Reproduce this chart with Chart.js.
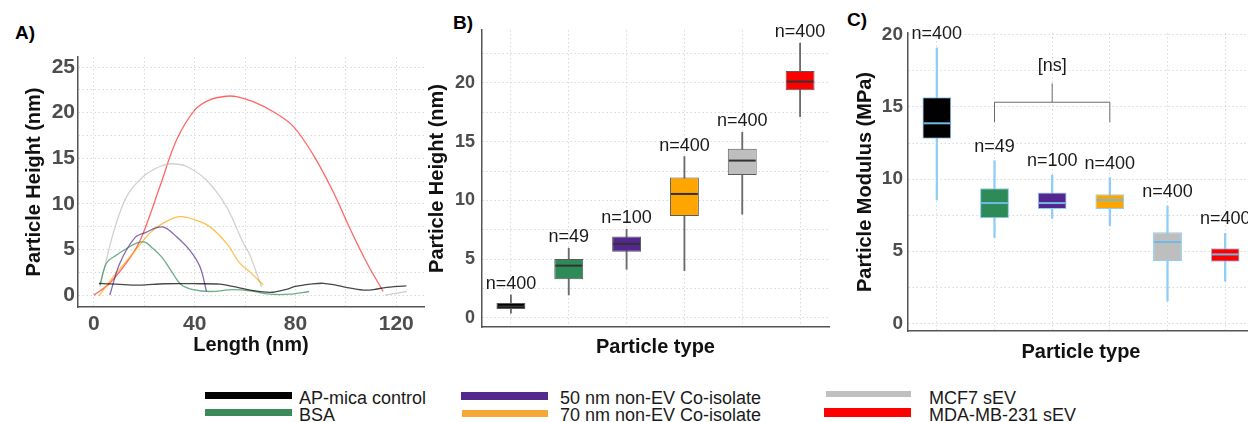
<!DOCTYPE html>
<html>
<head>
<meta charset="utf-8">
<script src="https://cdn.jsdelivr.net/npm/chart.js@4.4.0/dist/chart.umd.min.js"></script>
<style>
  html, body { margin: 0; padding: 0; background: #fff; }
  body { width: 1248px; height: 422px; overflow: hidden; position: relative; font-family: "Liberation Sans", Arial, sans-serif; }
  canvas { position: absolute; top: 0; }
  .tag { position: absolute; font-weight: bold; font-size: 19px; line-height: 19px; color: #000; }
  .sw { position: absolute; }
  .lab { position: absolute; font-size: 18px; line-height: 18px; color: #1a1a1a; white-space: nowrap; }
</style>
</head>
<body>
<div class="tag" style="left:15px;top:23px">A)</div>
<div class="tag" style="left:453px;top:13px">B)</div>
<div class="tag" style="left:847px;top:10px">C)</div>

<canvas id="chartA" width="430" height="370" style="left:0"></canvas>
<canvas id="chartB" width="420" height="370" style="left:420px"></canvas>
<canvas id="chartC" width="420" height="370" style="left:840px"></canvas>

<div id="legend"></div>

<script>
// particle types, same order in every panel
const particleTypes = ['AP-mica control', 'BSA', '50 nm non-EV Co-isolate', '70 nm non-EV Co-isolate', 'MCF7 sEV', 'MDA-MB-231 sEV'];
const typeColors = ['#000000', '#2e8b57', '#54278f', '#ffa500', '#bebebe', '#ff0000'];
const legendColors = ['#000000', '#3a8a5a', '#54298c', '#f6a735', '#c0c0c0', '#ff0000'];
const lineColors = ['rgba(0,0,0,0.72)', 'rgba(46,139,87,0.7)', 'rgba(84,39,143,0.7)', 'rgba(255,165,0,0.7)', 'rgba(190,190,190,0.7)', 'rgba(255,0,0,0.6)'];

// A) height profiles (length nm, height nm)
const apLength   = [2, 9, 18, 28, 42, 50, 55, 62, 70, 76, 80, 86, 91, 96, 100, 107, 111, 115, 124];
const apHeight   = [1.28, 1.2, 1.1, 1.25, 1.25, 1.2, 0.95, 0.55, 0.3, 0.6, 0.95, 1.2, 1.3, 1.1, 0.85, 0.55, 0.6, 0.8, 1.02];
const bsaLength  = [2.4, 5, 9, 13, 16.9, 20.2, 23.5, 26.9, 30.8, 34.8, 39.4, 46, 55.3, 61.9, 69.8, 77.8, 85.4];
const bsaHeight  = [1.1, 3.5, 4.4, 5.1, 5.7, 5.8, 5.1, 4.2, 2.6, 1.1, 0.6, 0.4, 0.6, 0.47, 0.1, 0.1, 0.4];
const co50Length = [6.3, 10.3, 16.3, 20.9, 24.9, 28.2, 32.8, 38.1, 42.1, 44.7];
const co50Height = [0, 3.5, 6.3, 6.9, 7.4, 7.4, 6.4, 4.9, 3.1, 0.4];
const co70Length = [2, 7.7, 15.6, 22.2, 27.5, 34.1, 40.7, 46, 52.6, 57.9, 61.9, 67.2];
const co70Height = [-0.1, 2, 4.6, 6.8, 7.9, 8.6, 8.2, 7.5, 5.7, 3.5, 2.55, 1.1];
const mcf7Length = [2.4, 7.7, 13, 19.6, 26.2, 30.8, 36.8, 44.7, 52.6, 59.3, 61.9, 66.5, 90, 115.5, 124.1];
const mcf7Height = [0.9, 6.8, 10.8, 13, 14.1, 14.4, 14.1, 12.6, 9.7, 5.7, 4.4, 0.9, null, 0, 0.4];
const mdaLength  = [0, 6.3, 15.6, 19.6, 26.2, 32.8, 40.1, 46, 52.6, 56.6, 63.2, 71.2, 79.1, 87, 95, 101.6, 108.2, 114.8];
const mdaHeight  = [0, 1.3, 4.6, 6.8, 11.9, 17, 20.3, 21.4, 21.8, 21.75, 21.2, 20.1, 18.5, 15.4, 11.3, 7.3, 3.6, 0.4];

// B) particle height box plots (nm)
const heightLow  = [0.4, 1.96, 4.14, 4.03, 8.83, 17.13];
const heightQ1   = [0.77, 3.3, 5.64, 8.68, 12.17, 19.38];
const heightMed  = [0.97, 4.45, 6.3, 10.55, 13.39, 20.11];
const heightQ3   = [1.28, 5.02, 6.92, 11.94, 14.4, 21.02];
const heightHigh = [1.96, 5.93, 7.55, 13.73, 15.8, 23.38];
const heightN    = [400, 49, 100, 400, 400, 400];

// C) particle modulus box plots (MPa)
const modulusLow  = [8.55, 5.96, 7.28, 6.77, 1.55, 2.93];
const modulusQ1   = [12.8, 7.28, 7.93, 7.93, 4.32, 4.27];
const modulusMed  = [13.87, 8.34, 8.34, 8.55, 5.64, 4.78];
const modulusQ3   = [15.67, 9.36, 9.08, 8.95, 6.31, 5.2];
const modulusHigh = [19.1, 11.28, 10.28, 10.1, 8.13, 6.24];
const modulusN    = [400, 49, 100, 400, 400, 400];
const nsBracket   = { from: 1, to: 3, level: 15.33, drop: 13.94, top: 16.64, labelAt: 17.86, text: '[ns]' };

Chart.defaults.font.family = '"Liberation Sans", Arial, sans-serif';

const gridStyle = { color: '#d9d9d9', lineWidth: 1, drawTicks: false };
const borderStyle = { color: '#555555', width: 1.5, dash: [1.5, 2.5] };
const titleFont = { size: 20, weight: 'bold' };
const tickColor = '#4d4d4d';

function fiveOnly(v) {
  return v % 5 === 0 ? v : '';
}

function pairs(xs, ys) {
  return xs.map((x, i) => ({ x: x, y: ys[i] }));
}

// ---------- A) line profiles ----------
const profiles = [
  [apLength, apHeight], [bsaLength, bsaHeight], [co50Length, co50Height],
  [co70Length, co70Height], [mcf7Length, mcf7Height], [mdaLength, mdaHeight]
];

new Chart(document.getElementById('chartA'), {
  type: 'line',
  data: {
    datasets: profiles.map((p, i) => ({
      label: particleTypes[i],
      data: pairs(p[0], p[1]),
      borderColor: lineColors[i],
      borderWidth: 1.3,
      pointRadius: 0,
      tension: 0.35,
      spanGaps: false
    }))
  },
  options: {
    responsive: false,
    animation: false,
    layout: { padding: { top: 57, right: 6, left: 0, bottom: 0 } },
    plugins: { legend: { display: false }, tooltip: { enabled: false } },
    scales: {
      x: {
        type: 'linear', min: -6.3, max: 131,
        ticks: { stepSize: 20, includeBounds: false, callback: v => (v % 40 === 0 ? v : ''),
                 font: { size: 21, weight: 'bold' }, color: tickColor, padding: 5, maxRotation: 0, autoSkip: false },
        grid: gridStyle, border: borderStyle,
        title: { display: true, text: 'Length (nm)', font: titleFont, color: '#111', padding: { top: 0, bottom: 13 } },
        afterFit: s => { s.height = 63; }
      },
      y: {
        min: -1.3, max: 26.1,
        ticks: { stepSize: 2.5, includeBounds: false, callback: fiveOnly,
                 font: { size: 21, weight: 'bold' }, color: tickColor, padding: 3, autoSkip: false },
        grid: gridStyle, border: borderStyle,
        title: { display: true, text: 'Particle Height (nm)', font: titleFont, color: '#111', padding: { top: 22, bottom: 0 } },
        afterFit: s => { s.width = 78; }
      }
    }
  }
});

// ---------- box plot helper (floating bars + medians/labels) ----------
const boxExtras = {
  id: 'boxExtras',
  afterDatasetsDraw(chart, args, opts) {
    const { ctx, scales: { x, y } } = chart;
    const meta = chart.getDatasetMeta(1);
    ctx.save();
    opts.med.forEach((m, i) => {
      const bar = meta.data[i];
      const half = bar.width / 2;
      const py = y.getPixelForValue(m);
      ctx.strokeStyle = opts.medColor;
      ctx.lineWidth = opts.medWidth;
      ctx.beginPath();
      ctx.moveTo(bar.x - half + 1, py);
      ctx.lineTo(bar.x + half - 1, py);
      ctx.stroke();
      ctx.fillStyle = '#1a1a1a';
      ctx.font = '18px "Liberation Sans", Arial, sans-serif';
      ctx.textAlign = 'center';
      ctx.textBaseline = 'alphabetic';
      ctx.fillText('n=' + opts.n[i], bar.x, y.getPixelForValue(opts.high[i]) - opts.gap);
    });
    if (opts.bracket) {
      const b = opts.bracket;
      const x1 = x.getPixelForValue(b.from), x2 = x.getPixelForValue(b.to);
      const xm = (x1 + x2) / 2;
      const yl = y.getPixelForValue(b.level), yd = y.getPixelForValue(b.drop), yt = y.getPixelForValue(b.top);
      ctx.strokeStyle = '#6b6b6b';
      ctx.lineWidth = 1;
      ctx.beginPath();
      ctx.moveTo(x1, yd); ctx.lineTo(x1, yl); ctx.lineTo(x2, yl); ctx.lineTo(x2, yd);
      ctx.moveTo(xm, yl); ctx.lineTo(xm, yt);
      ctx.stroke();
      ctx.fillStyle = '#1a1a1a';
      ctx.textBaseline = 'middle';
      ctx.fillText(b.text, xm, y.getPixelForValue(b.labelAt));
    }
    ctx.restore();
  }
};

function boxChart(id, cfg) {
  return new Chart(document.getElementById(id), {
    type: 'bar',
    data: {
      labels: particleTypes,
      datasets: [
        { data: cfg.low.map((v, i) => [v, cfg.high[i]]), backgroundColor: cfg.whisker,
          barThickness: cfg.whiskerWidth, grouped: false, order: 2 },
        { data: cfg.q1.map((v, i) => [v, cfg.q3[i]]), backgroundColor: typeColors,
          borderColor: cfg.outline, borderWidth: 1, borderSkipped: false,
          barPercentage: 0.5, categoryPercentage: 1, grouped: false, order: 1 }
      ]
    },
    options: {
      responsive: false,
      animation: false,
      layout: { padding: { top: cfg.top, right: cfg.right, left: 0, bottom: 0 } },
      plugins: {
        legend: { display: false }, tooltip: { enabled: false },
        boxExtras: { med: cfg.med, high: cfg.high, n: cfg.n, gap: cfg.gap,
                     medColor: cfg.medColor, medWidth: cfg.medWidth, bracket: cfg.bracket }
      },
      scales: {
        x: {
          offset: true,
          ticks: { display: false },
          grid: Object.assign({ offset: false }, gridStyle), border: borderStyle,
          title: { display: true, text: 'Particle type', font: titleFont, color: '#111', padding: { top: 0, bottom: cfg.xTitlePad } },
          afterFit: s => { s.height = cfg.xHeight; }
        },
        y: {
          min: cfg.min, max: cfg.max,
          ticks: { stepSize: 2.5, includeBounds: false, callback: fiveOnly,
                   font: { size: cfg.tickSize, weight: 'bold' }, color: tickColor, padding: cfg.tickPad, autoSkip: false },
          grid: gridStyle, border: borderStyle,
          title: { display: true, text: cfg.yTitle, font: titleFont, color: '#111', padding: { top: cfg.yTitlePad, bottom: 0 } },
          afterFit: s => { s.width = cfg.yWidth; }
        }
      }
    },
    plugins: [boxExtras]
  });
}

// ---------- B) heights ----------
boxChart('chartB', {
  low: heightLow, q1: heightQ1, med: heightMed, q3: heightQ3, high: heightHigh, n: heightN,
  whisker: '#6b6b6b', whiskerWidth: 1.2, outline: '#5a5a5a', medColor: '#333333', medWidth: 2,
  min: -0.77, max: 24.5, top: 30, right: 11, yWidth: 62, xHeight: 43,
  yTitle: 'Particle Height (nm)', yTitlePad: 5, xTitlePad: 11, tickSize: 18, tickPad: 7, gap: 6
});

// ---------- C) modulus ----------
boxChart('chartC', {
  low: modulusLow, q1: modulusQ1, med: modulusMed, q3: modulusQ3, high: modulusHigh, n: modulusN,
  whisker: '#8ecdf5', whiskerWidth: 1.6, outline: '#87cefa', medColor: '#6fbbe8', medWidth: 2,
  min: -0.53, max: 20.13, top: 33, right: 6, yWidth: 68, xHeight: 39,
  yTitle: 'Particle Modulus (MPa)', yTitlePad: 13, xTitlePad: 6, tickSize: 19, tickPad: 5, gap: 9,
  bracket: nsBracket
});

// ---------- shared legend ----------
const legendSlots = [
  { sw: [205, 392, 87, 7], text: [299, 389] },
  { sw: [205, 409, 87, 7], text: [299, 406] },
  { sw: [461, 392, 87, 8], text: [560, 389] },
  { sw: [462, 410, 86, 7], text: [560, 406] },
  { sw: [826, 391, 85, 6], text: [929, 389] },
  { sw: [824, 408, 87, 9], text: [929, 406] }
];
const legendOrder = [0, 1, 2, 3, 4, 5];
const legend = document.getElementById('legend');
legendOrder.forEach((k, i) => {
  const s = legendSlots[i];
  const sw = document.createElement('div');
  sw.className = 'sw';
  sw.style.cssText = `left:${s.sw[0]}px;top:${s.sw[1]}px;width:${s.sw[2]}px;height:${s.sw[3]}px;background:${legendColors[k]}`;
  legend.appendChild(sw);
  const lab = document.createElement('div');
  lab.className = 'lab';
  lab.style.cssText = `left:${s.text[0]}px;top:${s.text[1]}px`;
  lab.textContent = particleTypes[k];
  legend.appendChild(lab);
});
</script>
</body>
</html>
